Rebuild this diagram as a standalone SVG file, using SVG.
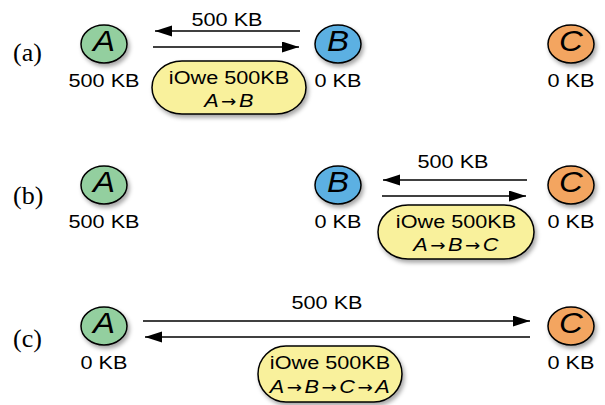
<svg xmlns="http://www.w3.org/2000/svg" width="605" height="405" viewBox="0 0 605 405">
<style>
.lbl{font-family:"Liberation Sans",Arial,sans-serif;font-size:19px;fill:#000;text-anchor:middle}
.node{font-family:"Liberation Sans",Arial,sans-serif;font-size:30px;font-style:italic;fill:#000;text-anchor:middle}
.row{font-family:"Liberation Serif","Times New Roman",serif;font-size:26px;fill:#000}
.it{font-style:italic}
.ar{font-family:"DejaVu Sans",sans-serif;font-size:16px}
.path{letter-spacing:2.2px}
.circ{stroke:#000;stroke-width:1.5;filter:url(#sh)}
.pill{fill:#f9f19c;stroke:#000;stroke-width:1.5;filter:url(#sh)}
.arr{stroke:#000;stroke-width:1.5;fill:none;marker-end:url(#ah)}
</style>
<defs>
<filter id="sh" x="-20%" y="-20%" width="150%" height="160%">
<feDropShadow dx="2" dy="3" stdDeviation="2" flood-color="#000" flood-opacity="0.35"/>
</filter>
<marker id="ah" markerUnits="userSpaceOnUse" markerWidth="18" markerHeight="12" refX="17" refY="5.5" orient="auto">
<path d="M0,0 L17,5.5 L0,11 z" fill="#000"/>
</marker>
</defs>

<g id="row-labels">
<text class="row" x="13" y="61">(a)</text>
<text class="row" x="13" y="204">(b)</text>
<text class="row" x="13" y="347">(c)</text>
</g>

<g id="connectors">
<line class="arr" x1="300" y1="31" x2="155" y2="31"/>
<line class="arr" x1="153" y1="47" x2="299" y2="47"/>
<text class="lbl" transform="translate(227,26) scale(1.14,1)">500 KB</text>

<line class="arr" x1="527" y1="180" x2="383" y2="180"/>
<line class="arr" x1="382" y1="196" x2="526" y2="196"/>
<text class="lbl" transform="translate(453,168) scale(1.14,1)">500 KB</text>

<line class="arr" x1="143" y1="321" x2="530" y2="321"/>
<line class="arr" x1="530" y1="337" x2="145" y2="337"/>
<text class="lbl" transform="translate(327,309) scale(1.14,1)">500 KB</text>
</g>

<g id="a-A">
<ellipse class="circ" cx="104" cy="44" rx="23" ry="19" fill="#93cf9f"/>
<text class="node" transform="translate(104,51) scale(1.1,1)">A</text>
<text class="lbl" transform="translate(104,87) scale(1.14,1)">500 KB</text>
</g>
<g id="a-B">
<ellipse class="circ" cx="338" cy="44" rx="23" ry="19" fill="#5cb0e2"/>
<text class="node" transform="translate(338,51) scale(1.1,1)">B</text>
<text class="lbl" transform="translate(338,87) scale(1.14,1)">0 KB</text>
</g>
<g id="a-C">
<ellipse class="circ" cx="571" cy="44" rx="23" ry="19" fill="#f3a560"/>
<text class="node" transform="translate(571,51) scale(1.1,1)">C</text>
<text class="lbl" transform="translate(571,87) scale(1.14,1)">0 KB</text>
</g>
<g id="a-iowe">
<rect class="pill" x="152" y="61" width="154" height="53" rx="30" ry="26.5"/>
<text class="lbl" transform="translate(229,84) scale(1.14,1)">iOwe 500KB</text>
<text class="lbl path" transform="translate(230,107) scale(1.14,1)"><tspan class="it">A</tspan><tspan class="ar">→</tspan><tspan class="it">B</tspan></text>
</g>

<g id="b-A">
<ellipse class="circ" cx="104" cy="185" rx="23" ry="19" fill="#93cf9f"/>
<text class="node" transform="translate(104,192) scale(1.1,1)">A</text>
<text class="lbl" transform="translate(104,228) scale(1.14,1)">500 KB</text>
</g>
<g id="b-B">
<ellipse class="circ" cx="338" cy="185" rx="23" ry="19" fill="#5cb0e2"/>
<text class="node" transform="translate(338,192) scale(1.1,1)">B</text>
<text class="lbl" transform="translate(338,228) scale(1.14,1)">0 KB</text>
</g>
<g id="b-C">
<ellipse class="circ" cx="571" cy="185" rx="23" ry="19" fill="#f3a560"/>
<text class="node" transform="translate(571,192) scale(1.1,1)">C</text>
<text class="lbl" transform="translate(571,228) scale(1.14,1)">0 KB</text>
</g>
<g id="b-iowe">
<rect class="pill" x="378" y="205" width="156" height="54" rx="30" ry="27"/>
<text class="lbl" transform="translate(456,228) scale(1.14,1)">iOwe 500KB</text>
<text class="lbl path" transform="translate(457,251) scale(1.14,1)"><tspan class="it">A</tspan><tspan class="ar">→</tspan><tspan class="it">B</tspan><tspan class="ar">→</tspan><tspan class="it">C</tspan></text>
</g>

<g id="c-A">
<ellipse class="circ" cx="104" cy="326" rx="23" ry="19" fill="#93cf9f"/>
<text class="node" transform="translate(104,333) scale(1.1,1)">A</text>
<text class="lbl" transform="translate(104,369) scale(1.14,1)">0 KB</text>
</g>
<g id="c-C">
<ellipse class="circ" cx="571" cy="326" rx="23" ry="19" fill="#f3a560"/>
<text class="node" transform="translate(571,333) scale(1.1,1)">C</text>
<text class="lbl" transform="translate(571,369) scale(1.14,1)">0 KB</text>
</g>
<g id="c-iowe">
<rect class="pill" x="258" y="346" width="144" height="56" rx="28" ry="28"/>
<text class="lbl" transform="translate(330,369) scale(1.14,1)">iOwe 500KB</text>
<text class="lbl path" transform="translate(331,393) scale(1.14,1)"><tspan class="it">A</tspan><tspan class="ar">→</tspan><tspan class="it">B</tspan><tspan class="ar">→</tspan><tspan class="it">C</tspan><tspan class="ar">→</tspan><tspan class="it">A</tspan></text>
</g>
</svg>
